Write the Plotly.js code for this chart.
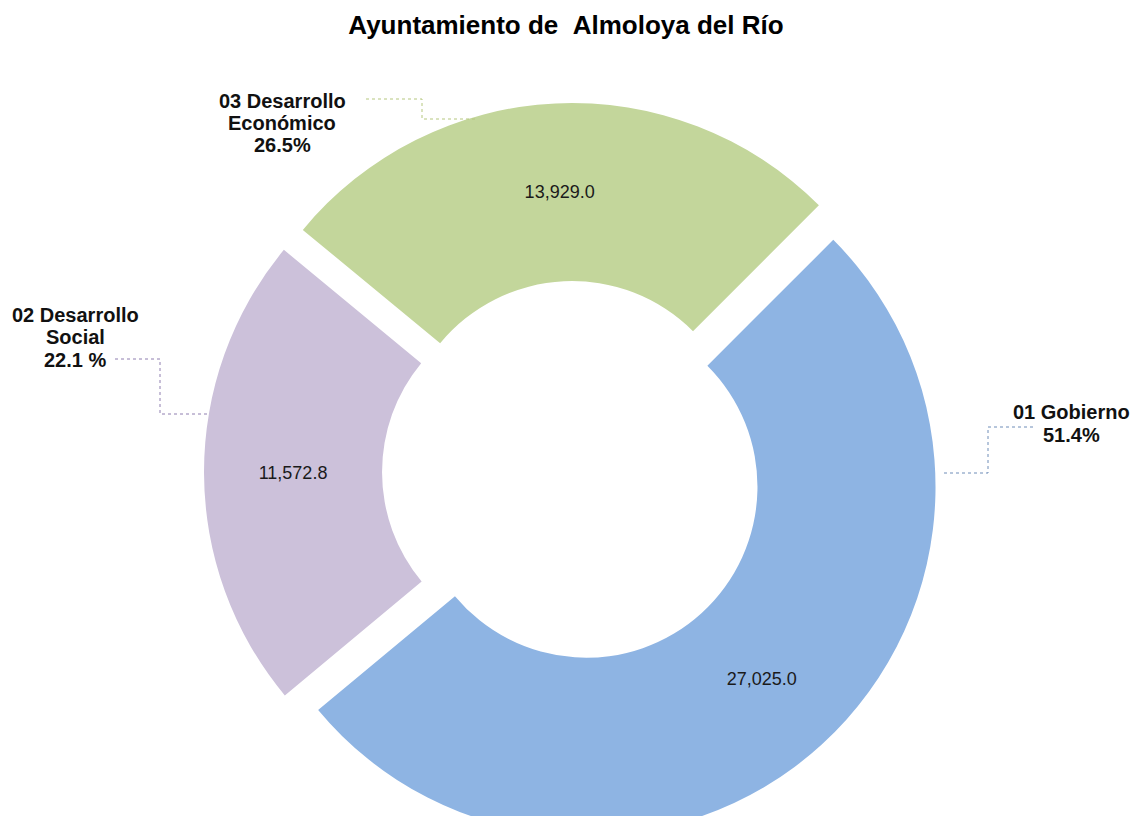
<!DOCTYPE html>
<html>
<head>
<meta charset="utf-8">
<script src="https://cdn.plot.ly/plotly-3.0.1.min.js"></script>
<style>
html, body { margin: 0; padding: 0; overflow: hidden; background: #fff; }
#chart { width: 1133px; height: 850px; }
</style>
</head>
<body>
<div id="chart"></div>
<script>
// ---- data ----
const categories = ['01 Gobierno', '02 Desarrollo Social', '03 Desarrollo Económico'];
const values = [27025.0, 11572.8, 13929.0];
const labelLines = [
  ['01 Gobierno', '51.4%'],
  ['02 Desarrollo', 'Social', '22.1 %'],
  ['03 Desarrollo', 'Económico', '26.5%']
];
const sliceColors = ['#8EB4E3', '#CCC1DA', '#C3D69B'];
const leaderColors = ['#6F8DB8', '#8F7FB0', '#B5C77E'];
const titleText = 'Ayuntamiento de \u00a0Almoloya del Río';

// ---- layout helpers (pixel -> paper) ----
const W = 1133, H = 850;
const px = x => x / W;
const py = y => 1 - y / H;

// label positions (centre x, centre y of each line) and leader paths
const labelPos = [
  { x: 1071, y: [412, 435] },
  { x: 75, y: [315, 337, 360] },
  { x: 282, y: [101, 123, 145] }
];
const leaderPaths = [
  [[1033, 427], [988, 427], [988, 473], [943, 473]],
  [[115, 359], [160, 359], [160, 414], [208, 414]],
  [[366, 99], [422, 99], [422, 119], [478, 119]]
];

const annotations = [];
labelLines.forEach((lines, i) => {
  lines.forEach((t, j) => {
    annotations.push({
      text: t, showarrow: false, xref: 'paper', yref: 'paper',
      x: px(labelPos[i].x), y: py(labelPos[i].y[j]),
      xanchor: 'center', yanchor: 'middle',
      font: { family: 'Liberation Sans, Arial, sans-serif', size: 20, color: '#111', weight: 'bold' }
    });
  });
});

const shapes = leaderPaths.map((pts, i) => ({
  type: 'path', xref: 'paper', yref: 'paper',
  path: pts.map((p, k) => (k === 0 ? 'M' : 'L') + px(p[0]) + ',' + py(p[1])).join(' '),
  line: { color: leaderColors[i], width: 1, dash: 'dot' }
}));

const trace = {
  type: 'pie',
  labels: categories,
  values: values,
  sort: false,
  direction: 'clockwise',
  rotation: 45,
  hole: 0.49,
  pull: 0.057,
  marker: { colors: sliceColors, line: { width: 0 } },
  textposition: 'inside',
  insidetextorientation: 'horizontal',
  texttemplate: '%{value:,.1f}',
  textfont: { family: 'Liberation Sans, Arial, sans-serif', size: 18, color: '#1a1a1a' },
  hoverinfo: 'none',
  showlegend: false,
  domain: { x: [204 / W, 942 / W], y: [1 - 841 / H, 1 - 103 / H] }
};

const layout = {
  width: W, height: H,
  margin: { l: 0, r: 0, t: 0, b: 0 },
  paper_bgcolor: '#ffffff',
  title: {
    text: titleText,
    x: 566 / W, xref: 'paper', xanchor: 'center',
    y: 1 - 25 / H, yref: 'container', yanchor: 'middle',
    font: { family: 'Liberation Sans, Arial, sans-serif', size: 26, color: '#000', weight: 'bold' }
  },
  annotations: annotations,
  shapes: shapes,
  showlegend: false
};

Plotly.newPlot('chart', [trace], layout, { staticPlot: true, displayModeBar: false });
</script>
</body>
</html>
